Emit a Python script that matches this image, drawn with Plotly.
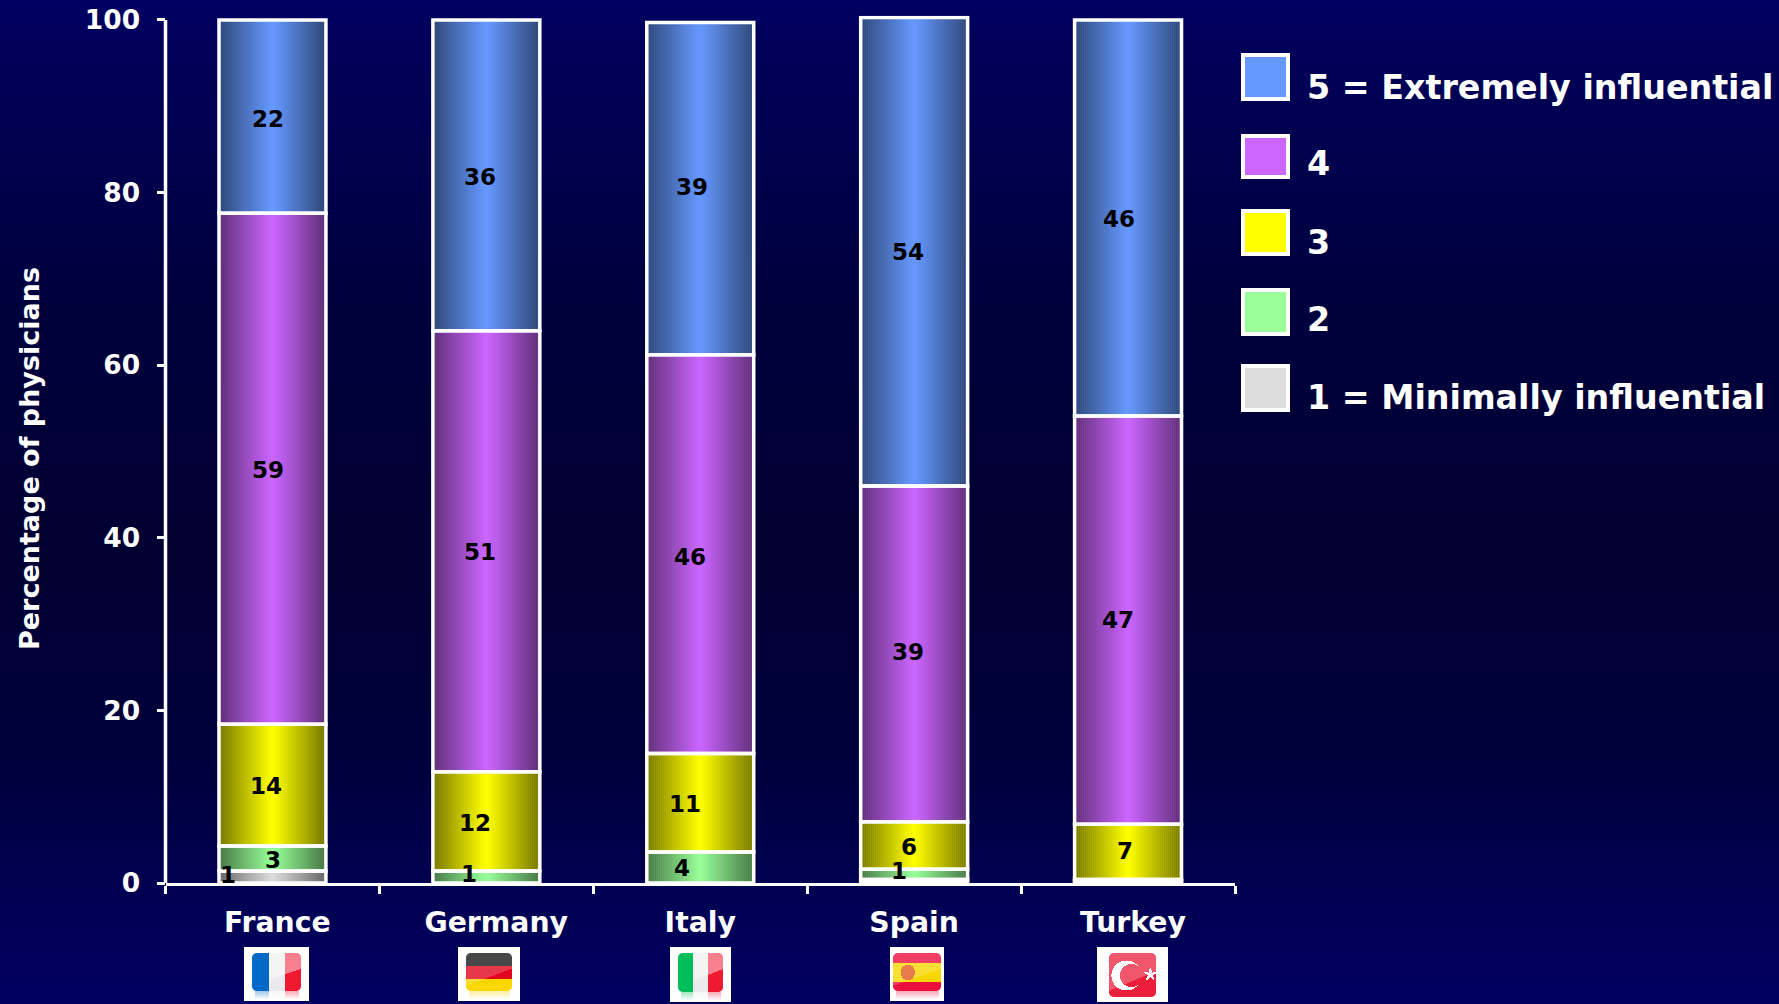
import base64, struct, zlib
import numpy as np
import plotly.graph_objects as go

# ---------- data ----------
countries = ["France", "Germany", "Italy", "Spain", "Turkey"]
series_names = ["1 = Minimally influential", "2", "3", "4", "5 = Extremely influential"]
minimal = [1.4, None, None, 0.4, 0.2]
two = [2.9, 1.4, 3.6, 1.2, 0.2]
three = [14.1, 11.5, 11.4, 5.5, 6.4]
four = [59.2, 51.1, 46.2, 38.9, 47.3]
extreme = [22.4, 36.0, 38.5, 54.3, 45.9]
labels_minimal = ["1", "", "", "", ""]
labels_two = ["3", "1", "4", "1", ""]
labels_three = ["14", "12", "11", "6", "7"]
labels_four = ["59", "51", "46", "39", "47"]
labels_extreme = ["22", "36", "39", "54", "46"]
y_ticks = [0, 20, 40, 60, 80, 100]
axis_title = "Percentage of physicians"

all_series = [minimal, two, three, four, extreme]
all_labels = [labels_minimal, labels_two, labels_three, labels_four, labels_extreme]
colors = ["#DDDDDD", "#99FF99", "#FFFF00", "#CC66FF", "#6699FF"]

W, H = 1779, 1004
FONT = "DejaVu Sans"
WHITE = "#FFFFFF"
Y_MAX = 100.5


def px(x):
    return x / W


def py(y):
    return 1 - y / H


def png_uri(arr):
    arr = np.asarray(arr, dtype=np.uint8)
    h, w = arr.shape[:2]
    raw = b"".join(b"\x00" + arr[r].tobytes() for r in range(h))

    def chunk(t, d):
        return struct.pack(">I", len(d)) + t + d + struct.pack(">I", zlib.crc32(t + d) & 0xFFFFFFFF)

    data = b"\x89PNG\r\n\x1a\n" + chunk(b"IHDR", struct.pack(">IIBBBBB", w, h, 8, 6, 0, 0, 0))
    data += chunk(b"IDAT", zlib.compress(raw)) + chunk(b"IEND", b"")
    return "data:image/png;base64," + base64.b64encode(data).decode()


def background():
    ys = np.linspace(0, 1, H)
    blue = np.interp(ys, [0, 0.04, 0.3, 0.55, 0.75, 0.93, 1], [98, 90, 62, 50, 60, 88, 96])
    arr = np.zeros((H, 4, 4))
    arr[:, :, 2] = blue[:, None]
    arr[:, :, 3] = 255
    return png_uri(arr)


def rounded(w, h, x0, y0, x1, y1, r, s=3):
    yy, xx = np.mgrid[0:h * s, 0:w * s]
    xx = (xx + .5) / s
    yy = (yy + .5) / s
    dx = np.maximum(np.maximum(x0 + r - xx, xx - (x1 - r)), 0)
    dy = np.maximum(np.maximum(y0 + r - yy, yy - (y1 - r)), 0)
    m = (dx ** 2 + dy ** 2 <= r ** 2).astype(float)
    return m.reshape(h, s, w, s).mean(axis=(1, 3))


GLOSS = {"fr": .45, "it": .45, "de": .2, "es": .2, "tr": .25}


def flag(kind, w, h):
    yy, xx = np.mgrid[0:h, 0:w].astype(float)
    m = 8 if kind != "tr" else 12
    if kind == "es":
        m = 3
    x0, x1, y0, y1 = m, w - m, 6, h - 10
    img = np.ones((h, w, 3)) * 255
    body = np.zeros((h, w, 3))
    u = (xx - x0) / (x1 - x0)
    v = (yy - y0) / (y1 - y0)
    if kind == "fr":
        body[u < 1 / 3] = [0, 105, 200]
        body[(u >= 1 / 3) & (u < 2 / 3)] = [235, 235, 238]
        body[u >= 2 / 3] = [240, 25, 50]
    elif kind == "de":
        body[v < 1 / 3] = [25, 25, 25]
        body[(v >= 1 / 3) & (v < 2 / 3)] = [225, 5, 30]
        body[v >= 2 / 3] = [250, 215, 0]
    elif kind == "it":
        body[u < 1 / 3] = [0, 190, 90]
        body[(u >= 1 / 3) & (u < 2 / 3)] = [235, 235, 238]
        body[u >= 2 / 3] = [240, 25, 50]
    elif kind == "es":
        body[:] = [235, 15, 60]
        body[(v >= .25) & (v < .75)] = [248, 215, 0]
        c = ((xx - (x0 + .3 * (x1 - x0))) / 7) ** 2 + ((yy - (y0 + .5 * (y1 - y0))) / 8) ** 2 < 1
        body[c] = [225, 90, 30]
    else:
        y1 = h - 5
        v = (yy - y0) / (y1 - y0)
        body[:] = [235, 30, 60]
        cx, cy = x0 + .36 * (x1 - x0), y0 + .5 * (y1 - y0)
        a = (xx - cx) ** 2 + (yy - cy) ** 2 < 15 ** 2
        b = (xx - cx - 5) ** 2 + (yy - cy) ** 2 < 11.5 ** 2
        body[a & ~b] = [255, 255, 255]
        sx, sy = cx + 24, cy - 1
        ang = np.arctan2(yy - sy, xx - sx) + np.pi / 2
        rad = np.hypot(xx - sx, yy - sy)
        lim = 2.5 + 4 * np.abs(np.cos(2.5 * ang)) ** 3
        body[rad < lim] = [255, 255, 255]
    mask = rounded(w, h, x0, y0, x1, y1, 5)[..., None]
    img = img * (1 - mask) + body * mask
    # glossy diagonal sheen over the top of the flag
    gloss = (v < .62 - (u - .5) * .45).astype(float)[..., None] * mask * GLOSS[kind]
    if kind in ("fr", "it"):
        gloss = gloss * (u >= 1 / 3)[..., None]
    img = img * (1 - gloss) + 255 * gloss
    if kind != "tr":
        # soft reflection under the flag
        refl = np.clip(1 - (yy - y1) / 8, 0, 1) * (yy >= y1) * ((xx > x0 + 2) & (xx < x1 - 2))
        tone = body[int(y1) - 2, :, :][None, :, :]
        img = img * (1 - .35 * refl[..., None]) + tone * .35 * refl[..., None]
    out = np.concatenate([img, np.full((h, w, 1), 255.0)], axis=2)
    return png_uri(np.clip(out, 0, 255))


fig = go.Figure()

# flat coloured stacks
bases = [[sum(s[i] or 0 for s in all_series[:k]) for i in range(5)] for k in range(5)]
BAR_W = 0.5
for k in range(5):
    fig.add_trace(go.Bar(x=countries, y=all_series[k], base=bases[k], width=BAR_W, name=series_names[k],
                         marker=dict(color=colors[k], line=dict(width=0)),
                         showlegend=False, hoverinfo="skip"))

# horizontal cylinder shading across each column
N = 54
totals = [sum(s[i] or 0 for s in all_series) for i in range(5)]
sx, sy, soff, scol = [], [], [], []
for i, c in enumerate(countries):
    for j in range(N):
        t = (j + .5) / N
        alpha = 0.5 * min(1, abs(2 * t - 1) / .92) ** 1.05
        sx.append(c)
        sy.append(totals[i])
        soff.append(-BAR_W / 2 + j * BAR_W / N)
        scol.append(f"rgba(0,0,0,{alpha:.3f})")
fig.add_trace(go.Bar(x=sx, y=sy, offset=soff, width=BAR_W / N, marker=dict(color=scol, line=dict(width=0)),
                     showlegend=False, hoverinfo="skip"))

# white outlines
for k in range(5):
    fig.add_trace(go.Bar(x=countries, y=all_series[k], base=bases[k], width=BAR_W,
                         marker=dict(color="rgba(0,0,0,0)", line=dict(width=3.5, color=WHITE)),
                         showlegend=False, hoverinfo="skip"))

annotations = []
nudge_px = {
    (0, 0): (-44, 2), (1, 0): (1, -2),
    (1, 1): (-17, 3), (1, 2): (-18, -1), (1, 3): (-15, 3),
    (2, 0): (-6, -1), (2, 1): (-11, -2), (2, 2): (-15, -1), (2, 3): (-5, -2), (2, 4): (-3, 1),
    (3, 0): (-4, -1), (3, 1): (-6, -1), (3, 2): (-10, -3), (3, 3): (-6, 2), (3, 4): (-10, 0),
    (4, 0): (-4, -2), (4, 1): (-6, -2), (4, 2): (-8, 2), (4, 3): (-6, 0), (4, 4): (-9, -1),
}
for k in range(5):
    for i, c in enumerate(countries):
        txt = all_labels[k][i]
        if not txt:
            continue
        mid = bases[k][i] + (all_series[k][i] or 0) / 2
        dx, dy = nudge_px.get((k, i), (0, 0))
        annotations.append(dict(x=c, y=mid, xref="x", yref="y", text=f"<b>{txt}</b>", showarrow=False,
                                xshift=dx, yshift=dy, font=dict(family=FONT, size=23, color="#000000")))

# legend (drawn to size: swatches are larger than Plotly's legend keys)
shapes = [dict(type="line", xref="paper", yref="y", x0=px(165.5), x1=px(165.5), y0=0, y1=100,
               line=dict(color=WHITE, width=3.5))]
sw_tops = [364, 288, 209, 134, 53]
sw_bots = [412, 336, 256, 179, 101]
text_y = [397, 320, 242, 164, 87]
for k in range(5):
    shapes.append(dict(type="rect", xref="paper", yref="paper", x0=px(1243), x1=px(1288),
                       y0=py(sw_bots[k] - 2), y1=py(sw_tops[k] + 2), fillcolor=colors[k],
                       line=dict(color=WHITE, width=4)))
    annotations.append(dict(x=px(1305), y=py(text_y[k]), xref="paper", yref="paper", xanchor="left",
                            yanchor="middle", text=f"<b>{series_names[k]}</b>", showarrow=False,
                            font=dict(family=FONT, size=33.3, color=WHITE)))

annotations.append(dict(x=px(29), y=py(459), xref="paper", yref="paper", textangle=-90, showarrow=False,
                        xanchor="center", yanchor="middle",
                        text=f"<b>{axis_title}</b>", font=dict(family=FONT, size=27, color=WHITE)))

images = [dict(source=background(), xref="paper", yref="paper", x=0, y=1, sizex=1, sizey=1,
               sizing="stretch", xanchor="left", yanchor="top", layer="below")]
flag_boxes = [("fr", 244, 947, 65, 54), ("de", 458, 947, 62, 54), ("it", 670, 947, 61, 55),
              ("es", 890, 947, 54, 54), ("tr", 1097, 947, 71, 55)]
for kind, x, y, w, h in flag_boxes:
    images.append(dict(source=flag(kind, w, h), xref="paper", yref="paper", x=px(x), y=py(y), sizex=w / W,
                       sizey=h / H, sizing="stretch", xanchor="left", yanchor="top", layer="above"))

fig.update_layout(
    width=W, height=H, autosize=False, margin=dict(l=0, r=0, t=0, b=0, autoexpand=False), barmode="overlay",
    paper_bgcolor="#00004A", plot_bgcolor="rgba(0,0,0,0)", showlegend=False, hovermode=False,
    shapes=shapes, annotations=annotations, images=images,
    xaxis=dict(domain=[px(165.5), px(1235)], range=[-0.5, 4.5], type="category", categoryorder="array",
               categoryarray=countries, tickson="boundaries", ticks="outside", ticklen=8, tickwidth=3,
               tickvals=countries, ticktext=["\u00a0" + countries[0], "\u00a0\u00a0" + countries[1], countries[2],
                                             countries[3], "\u00a0" + countries[4]],
               automargin=False,
               tickcolor=WHITE, showline=True, linecolor=WHITE, linewidth=3, showgrid=False, zeroline=False,
               ticklabelstandoff=12, tickfont=dict(family=FONT, size=28.3, color=WHITE, weight="bold")),
    yaxis=dict(domain=[py(883), py(883 - 8.63 * Y_MAX)], range=[0, Y_MAX], tickvals=y_ticks, ticks="outside", ticklen=8,
               automargin=False,
               tickwidth=3, tickcolor=WHITE, showline=False, showgrid=False,
               zeroline=False, ticklabelstandoff=11, tickfont=dict(family=FONT, size=26.5, color=WHITE, weight="bold")),
)
fig.write_html("out.html", config=dict(displayModeBar=False),
               post_script="document.documentElement.style.margin='0';document.body.style.margin='0';"
                           "document.body.style.overflow='hidden';")
